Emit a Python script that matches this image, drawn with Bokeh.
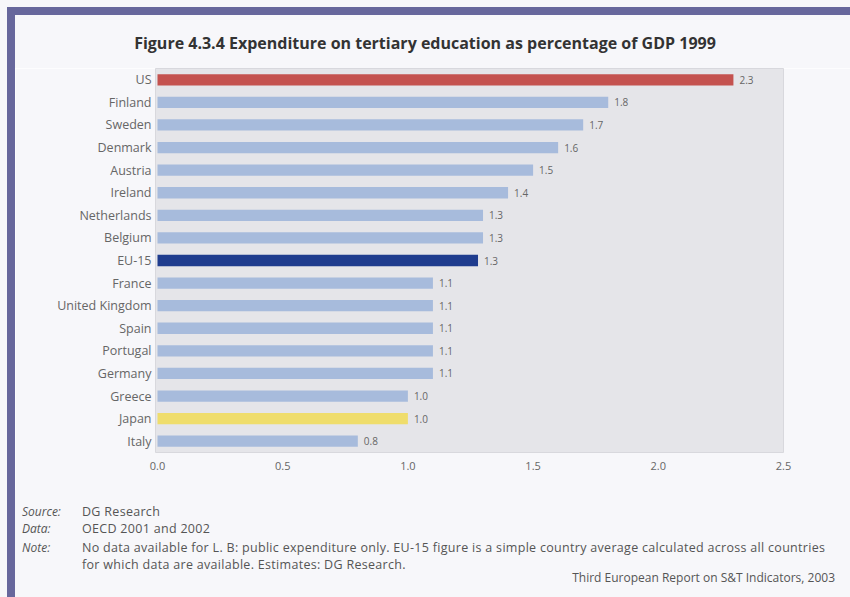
from bokeh.plotting import figure
from bokeh.models import ColumnDataSource, FactorRange, Range1d, FixedTicker, CustomJSTickFormatter, Div
from bokeh.layouts import column, row
from bokeh.core.properties import value
from bokeh.embed import file_html
from bokeh.resources import INLINE

countries = ["US", "Finland", "Sweden", "Denmark", "Austria", "Ireland", "Netherlands",
             "Belgium", "EU-15", "France", "United Kingdom", "Spain", "Portugal",
             "Germany", "Greece", "Japan", "Italy"]
values = [2.3, 1.8, 1.7, 1.6, 1.5, 1.4, 1.3, 1.3, 1.28, 1.1, 1.1, 1.1, 1.1, 1.1, 1.0, 1.0, 0.8]
value_labels = ["2.3", "1.8", "1.7", "1.6", "1.5", "1.4", "1.3", "1.3", "1.3", "1.1", "1.1",
                "1.1", "1.1", "1.1", "1.0", "1.0", "0.8"]
bar_colors = ["#c4524f"] + ["#a7bbdc"] * 7 + ["#1f3c8e"] + ["#a7bbdc"] * 6 + ["#efdd6c"] + ["#a7bbdc"]
x_ticks = [0.0, 0.5, 1.0, 1.5, 2.0, 2.5]

title_text = "Figure 4.3.4 Expenditure on tertiary education as percentage of GDP 1999"
footer_keys = ["Source:", "Data:", "Note:"]
footer_vals = ["DG Research", "OECD 2001 and 2002",
               "No data available for L. B: public expenditure only. EU-15 figure is a simple country average calculated across all countries"]
footer_cont = "for which data are available. Estimates: DG Research."
credit = "Third European Report on S&amp;T Indicators, 2003"

BG = "#f7f7fa"
PURPLE = "#67679c"
FONT = "'Open Sans', sans-serif"

W, H = 850, 597
HEAD_H = 68
STRIP_W = 15
FIG_H = 422
FOOT_H = H - HEAD_H - FIG_H

# ---- header ----
header_html = f"""
<div style="position:relative;width:{W}px;height:{HEAD_H}px;background:{BG};overflow:hidden;">
  <div style="position:absolute;left:7px;top:7px;width:{W-7}px;height:8px;background:{PURPLE};"></div>
  <div style="position:absolute;left:7px;top:7px;width:8px;height:{HEAD_H-7}px;background:{PURPLE};"></div>
  <div style="position:absolute;left:0;top:33px;width:{W}px;line-height:20px;text-align:center;
       font-family:{FONT};font-weight:bold;font-size:16px;color:#333333;white-space:nowrap;">{title_text}</div>
</div>"""
header = Div(text=header_html, width=W, height=HEAD_H, margin=0)

strip_html = f"""
<div style="position:relative;width:{STRIP_W}px;height:{FIG_H}px;background:{BG};">
  <div style="position:absolute;left:7px;top:0;width:8px;height:{FIG_H}px;background:{PURPLE};"></div>
</div>"""
strip = Div(text=strip_html, width=STRIP_W, height=FIG_H, margin=0)

# ---- footer ----
def line(left, top, txt, italic=False, align="left", size=12.5, spacing=0.0):
    st = "italic" if italic else "normal"
    pos = f"left:{left}px;" if align == "left" else f"right:{left}px;"
    return (f'<div style="position:absolute;{pos}top:{top}px;line-height:16px;font-family:{FONT};'
            f'font-style:{st};font-size:{size}px;letter-spacing:{spacing}px;color:#555555;white-space:nowrap;">{txt}</div>')

rows_top = [14, 31, 50]
parts = []
for k, v, t in zip(footer_keys, footer_vals, rows_top):
    parts.append(line(22, t, k, italic=True, size=12))
    parts.append(line(82, t, v, spacing=0.3))
parts.append(line(82, 67, footer_cont, spacing=0.3))
parts.append(line(15, 80, credit, align="right", size=12))
footer_html = (f'<div style="position:relative;width:{W}px;height:{FOOT_H}px;background:{BG};overflow:hidden;">'
               f'<div style="position:absolute;left:7px;top:0;width:8px;height:{FOOT_H}px;background:{PURPLE};"></div>'
               + "".join(parts) + "</div>")
footer = Div(text=footer_html, width=W, height=FOOT_H, margin=0)

# ---- chart ----
src = ColumnDataSource(dict(country=countries, val=values, lab=value_labels, col=bar_colors))

p = figure(width=W - STRIP_W, height=FIG_H, output_backend="svg", toolbar_location=None,
           y_range=FactorRange(factors=countries[::-1], range_padding=0),
           x_range=Range1d(-0.008, 2.5),
           min_border_left=155 - STRIP_W, min_border_right=W - 783, min_border_top=0,
           min_border_bottom=FIG_H - 384, margin=0)
p.border_fill_color = BG
p.background_fill_color = "#e5e5e9"
p.outline_line_color = "#d8d8dd"
p.grid.visible = False

p.hbar(y="country", right="val", left=0, height=0.5, fill_color="col", line_color=None, source=src)
p.text(x="val", y="country", text="lab", x_offset=6, text_baseline="middle", text_align="left",
       text_font_size="10px", text_color="#666666", text_font=value("Open Sans"), source=src)

p.xaxis.ticker = FixedTicker(ticks=x_ticks)
p.xaxis.formatter = CustomJSTickFormatter(code="return tick.toFixed(1);")
for ax in (p.xaxis[0], p.yaxis[0]):
    ax.axis_line_color = None
    ax.major_tick_line_color = None
    ax.minor_tick_line_color = None
    ax.major_tick_out = 0
    ax.major_tick_in = 0
    ax.major_label_text_color = "#666666"
    ax.major_label_text_font = "Open Sans"
p.xaxis.major_label_text_font_size = "11px"
p.xaxis.major_label_standoff = 9
p.yaxis.major_label_text_font_size = "12.5px"
p.yaxis.major_label_standoff = 4

layout = column(header, row(strip, p, margin=0, spacing=0), footer, margin=0, spacing=0)

open("out.html", "w").write(file_html(layout, INLINE))
